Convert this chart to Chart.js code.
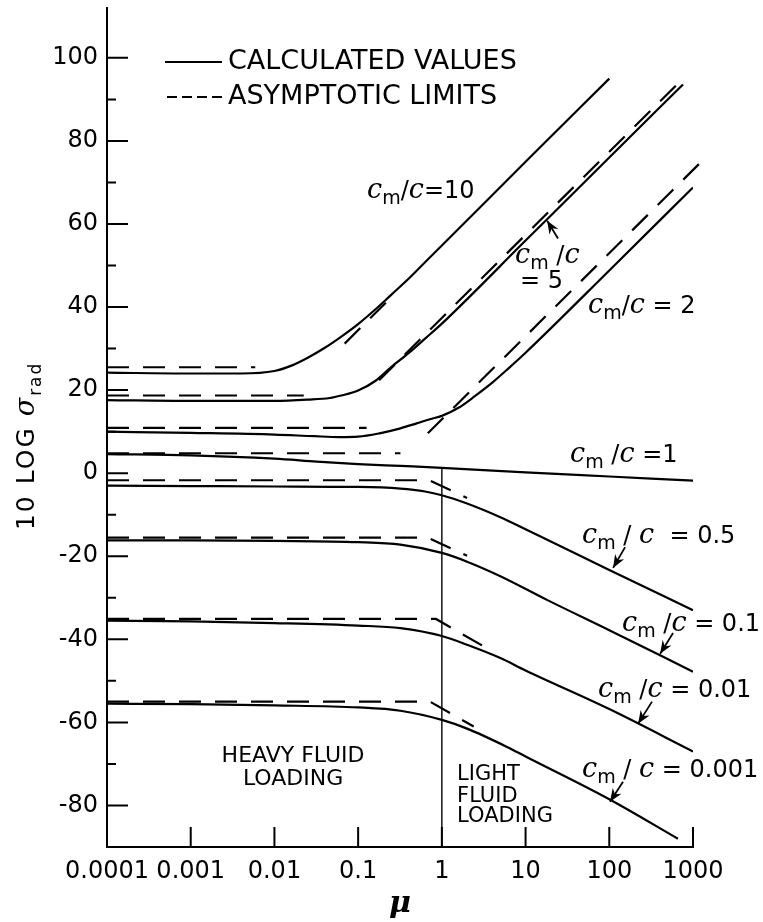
<!DOCTYPE html>
<html>
<head>
<meta charset="utf-8">
<script src="https://cdn.jsdelivr.net/npm/chart.js@4"></script>
<style>
  html, body { margin: 0; padding: 0; background: #fff; }
  canvas { display: block; }
</style>
</head>
<body>
<canvas id="sigmaChart" width="763" height="922"></canvas>
<script>
// axis ticks
const muTicks = [0.0001, 0.001, 0.01, 0.1, 1, 10, 100, 1000];
const muTickLabels = ['0.0001', '0.001', '0.01', '0.1', '1', '10', '100', '1000'];
const yMajor = [-80, -60, -40, -20, 0, 20, 40, 60, 80, 100];
const yMinor = [-70, -50, -30, -10, 10, 30, 50, 70, 90];

// calculated values (solid), one pair per cm/c
const mu10 = [0.0001, 0.001, 0.004, 0.01, 0.016, 0.025, 0.04, 0.063, 0.1, 0.16, 0.25, 0.4, 0.63, 1, 10, 100];
const calc10 = [24.2, 24.0, 24.0, 24.6, 25.9, 27.8, 30.2, 32.9, 35.9, 39.4, 43.0, 46.8, 50.8, 54.8, 75.0, 95.0];
const mu5 = [0.0001, 0.001, 0.01, 0.025, 0.046, 0.063, 0.1, 0.16, 0.25, 0.4, 0.63, 1, 10, 100, 760];
const calc5 = [17.6, 17.4, 17.4, 17.7, 18.1, 18.7, 19.9, 22.2, 25.6, 28.9, 32.4, 36.0, 56.0, 76.0, 93.6];
const mu2 = [0.0001, 0.001, 0.01, 0.03, 0.06, 0.1, 0.18, 0.32, 0.5, 0.72, 1, 1.6, 2.5, 4, 6.3, 10, 100, 1000];
const calc2 = [10.0, 9.7, 9.3, 8.9, 8.7, 8.8, 9.6, 10.8, 12.0, 13.0, 13.8, 15.8, 18.6, 21.8, 25.3, 29.0, 48.8, 68.8];
const mu1 = [0.0001, 0.001, 0.01, 0.032, 0.1, 0.32, 1, 10, 100, 1000];
const calc1 = [4.6, 4.3, 3.5, 2.8, 2.2, 1.75, 1.3, 0.2, -0.8, -1.8];
const mu05 = [0.0001, 0.001, 0.01, 0.1, 0.32, 0.63, 1, 2, 5, 10, 100, 1000];
const calc05 = [-3.0, -3.1, -3.2, -3.3, -3.7, -4.4, -5.3, -7.3, -10.6, -13.5, -23.3, -33.0];
const mu01 = [0.0001, 0.001, 0.01, 0.1, 0.32, 1, 2, 5, 18, 100, 1000];
const calc01 = [-16.2, -16.2, -16.3, -16.6, -17.2, -19.2, -21.3, -24.8, -30.5, -37.8, -47.8];
const mu001 = [0.0001, 0.001, 0.01, 0.1, 0.32, 1, 2, 5, 10, 100, 1000];
const calc001 = [-35.5, -35.7, -36.1, -36.7, -37.3, -39.2, -41.3, -44.5, -47.5, -56.8, -67.0];
const mu0001 = [0.0001, 0.001, 0.01, 0.1, 0.32, 1, 2, 6, 10, 100, 660];
const calc0001 = [-55.5, -55.6, -55.9, -56.4, -57.2, -59.4, -61.5, -65.9, -68.2, -78.5, -88.0];

// asymptotic limits (dashed)
const asyMu10a = [0.0001, 0.0059], asy10a = [25.5, 25.5];
const asyMu10b = [0.069, 0.25], asy10b = [31.2, 42.4];
const asyMu5a = [0.0001, 0.0224], asy5a = [18.7, 18.7];
const asyMu5b = [0.178, 794], asy5b = [22.4, 95.4];
const asyMu2a = [0.0001, 0.126], asy2a = [10.9, 10.9];
const asyMu2b = [0.68, 1445], asy2b = [9.6, 76.2];
const asyMu1 = [0.0001, 0.32], asy1 = [4.8, 4.8];
const asyMu05 = [0.0001, 0.71, 2], asy05 = [-1.7, -1.7, -6.0];
const asyMu01 = [0.0001, 0.68, 2], asy01 = [-15.5, -15.5, -19.9];
const asyMu001 = [0.0001, 0.85, 3.1], asy001 = [-35.1, -35.1, -41.6];
const asyMu0001 = [0.0001, 0.72, 2.4], asy0001 = [-55.0, -55.0, -61.0];

// heavy / light fluid loading boundary
const boundaryMu = [1, 1], boundaryVal = [-90, 1.3];

const ink = '#000';
const SANS = '"DejaVu Sans", sans-serif';
const fC = 'italic 27px "DejaVu Serif", serif';
const fSub = '19px ' + SANS;
const fTxt = '24px ' + SANS;

function line(mu, val, dashed, width) {
  return {
    data: mu.map((m, i) => ({x: m, y: val[i]})),
    borderColor: ink,
    borderWidth: width || 2.2,
    borderDash: dashed ? [22, 14] : [],
    tension: dashed ? 0 : 0.4,
    cubicInterpolationMode: dashed ? 'default' : 'monotone',
    pointRadius: 0,
    fill: false
  };
}

const datasets = [
  line(mu10, calc10), line(mu5, calc5), line(mu2, calc2), line(mu1, calc1),
  line(mu05, calc05), line(mu01, calc01), line(mu001, calc001), line(mu0001, calc0001),
  line(asyMu10a, asy10a, true), line(asyMu10b, asy10b, true),
  line(asyMu5a, asy5a, true), line(asyMu5b, asy5b, true),
  line(asyMu2a, asy2a, true), Object.assign(line(asyMu2b, asy2b, true), {clip: false}),
  line(asyMu1, asy1, true), line(asyMu05, asy05, true), line(asyMu01, asy01, true),
  line(asyMu001, asy001, true), line(asyMu0001, asy0001, true),
  line(boundaryMu, boundaryVal, false, 1.4)
];

// curve labels: anchor (mu, value) of the baseline start
const notes = [
  {mu: 0.128, v: 66.3, slash: '/', rest: '=10'},
  {mu: 55.8, v: 38.5, slash: '/', rest: ' = 2'},
  {mu: 34, v: 2.6, slash: ' /', rest: ' =1'},
  {mu: 47.3, v: -16.8, slash: ' / ', rest: '  = 0.5'},
  {mu: 142, v: -38, slash: ' /', rest: ' = 0.1'},
  {mu: 73.5, v: -53.8, slash: ' /', rest: ' = 0.01'},
  {mu: 47.3, v: -73.1, slash: ' / ', rest: ' = 0.001'}
];
const arrows = [
  [24.4, 56.5, 18.1, 60.8],
  [154.5, -17.8, 111, -22.8],
  [578, -38.5, 405, -43.5],
  [324, -55, 221, -60.3],
  [146, -74.3, 102, -79.1]
];

function drawParts(ctx, x, y, parts) {
  for (const p of parts) {
    ctx.font = p.f;
    ctx.fillText(p.t, x, y + (p.dy || 0));
    x += ctx.measureText(p.t).width;
  }
}
function cmParts(slash, rest) {
  const parts = [{t: 'c', f: fC}, {t: 'm', f: fSub, dy: 6}, {t: slash, f: fTxt}, {t: 'c', f: fC}];
  if (rest) parts.push({t: rest, f: fTxt});
  return parts;
}

const inkPlugin = {
  id: 'ink',
  afterDraw(chart) {
    const {ctx, chartArea: a, scales: {x, y}} = chart;
    const X = m => x.getPixelForValue(m);
    const Y = v => y.getPixelForValue(v);
    ctx.save();
    ctx.strokeStyle = ink;
    ctx.fillStyle = ink;
    ctx.lineWidth = 2;
    ctx.setLineDash([]);

    // inward tick marks
    ctx.beginPath();
    yMajor.forEach(v => { ctx.moveTo(a.left, Y(v)); ctx.lineTo(a.left + 21, Y(v)); });
    yMinor.forEach(v => { ctx.moveTo(a.left, Y(v)); ctx.lineTo(a.left + 9, Y(v)); });
    muTicks.slice(1).forEach(m => { ctx.moveTo(X(m), a.bottom); ctx.lineTo(X(m), a.bottom - 20); });
    ctx.stroke();

    // legend
    ctx.beginPath();
    ctx.moveTo(165, Y(99)); ctx.lineTo(222, Y(99));
    ctx.stroke();
    ctx.setLineDash([10, 5]);
    ctx.beginPath();
    ctx.moveTo(167, Y(90.6)); ctx.lineTo(222, Y(90.6));
    ctx.stroke();
    ctx.setLineDash([]);
    ctx.font = '27px ' + SANS;
    ctx.textBaseline = 'middle';
    ctx.fillText('CALCULATED VALUES', 228, Y(99));
    ctx.fillText('ASYMPTOTIC LIMITS', 228, Y(90.6));

    // curve labels
    ctx.textBaseline = 'alphabetic';
    notes.forEach(n => drawParts(ctx, X(n.mu), Y(n.v), cmParts(n.slash, n.rest)));
    drawParts(ctx, X(7.5), Y(50.7), cmParts(' /', ''));
    drawParts(ctx, X(8.6), Y(44.7), [{t: '= 5', f: fTxt}]);

    // arrows
    arrows.forEach(([m0, v0, m1, v1]) => {
      const x0 = X(m0), y0 = Y(v0), x1 = X(m1), y1 = Y(v1);
      const ang = Math.atan2(y1 - y0, x1 - x0);
      ctx.lineWidth = 1.8;
      ctx.beginPath(); ctx.moveTo(x0, y0); ctx.lineTo(x1, y1); ctx.stroke();
      ctx.beginPath();
      ctx.moveTo(x1, y1);
      ctx.lineTo(x1 - 14 * Math.cos(ang - 0.38), y1 - 14 * Math.sin(ang - 0.38));
      ctx.lineTo(x1 - 9 * Math.cos(ang), y1 - 9 * Math.sin(ang));
      ctx.lineTo(x1 - 14 * Math.cos(ang + 0.38), y1 - 14 * Math.sin(ang + 0.38));
      ctx.closePath(); ctx.fill();
    });

    // fluid loading regions
    ctx.font = '22px ' + SANS;
    ctx.textAlign = 'center';
    ctx.fillText('HEAVY FLUID', X(0.0167), Y(-69.5));
    ctx.fillText('LOADING', X(0.0167), Y(-75));
    ctx.font = '21px ' + SANS;
    ctx.textAlign = 'left';
    ctx.fillText('LIGHT', X(1.52), Y(-73.8));
    ctx.fillText('FLUID', X(1.52), Y(-79.1));
    ctx.fillText('LOADING', X(1.52), Y(-83.9));

    // y axis title
    ctx.translate(a.left - 73, Y(-13.7));
    ctx.rotate(-Math.PI / 2);
    ctx.letterSpacing = '2px';
    drawParts(ctx, 0, 0, [
      {t: '10 LOG ', f: '25px ' + SANS},
      {t: 'σ', f: 'italic 27px "DejaVu Serif", serif'},
      {t: 'rad', f: '17px ' + SANS, dy: 7}
    ]);
    ctx.restore();
  }
};

new Chart(document.getElementById('sigmaChart'), {
  type: 'line',
  data: {datasets},
  options: {
    responsive: false,
    animation: false,
    layout: {padding: {top: 8, right: 70, left: 0, bottom: 0}},
    plugins: {legend: {display: false}, tooltip: {enabled: false}},
    scales: {
      x: {
        type: 'logarithmic',
        min: 0.0001,
        max: 1000,
        grid: {display: false, drawTicks: false},
        border: {display: true, color: ink, width: 2},
        afterBuildTicks: s => { s.ticks = muTicks.map(v => ({value: v})); },
        afterFit: s => { s.height = 75; s.paddingLeft = 0; s.paddingRight = 0; },
        ticks: {
          autoSkip: false, maxRotation: 0, minRotation: 0, padding: 10, color: ink,
          font: {family: 'DejaVu Sans', size: 24},
          callback: v => muTickLabels[muTicks.findIndex(t => Math.abs(Math.log10(t) - Math.log10(v)) < 1e-6)]
        },
        title: {display: true, text: 'μ', color: ink, padding: {top: 0, bottom: 0},
          font: {family: 'DejaVu Serif', size: 30, style: 'italic', weight: 'bold'}}
      },
      y: {
        type: 'linear',
        min: -90,
        max: 112,
        grid: {display: false, drawTicks: false},
        border: {display: true, color: ink, width: 2},
        afterBuildTicks: s => { s.ticks = yMajor.map(v => ({value: v})); },
        afterFit: s => { s.width = 107; s.paddingTop = 0; s.paddingBottom = 0; },
        ticks: {padding: 9, color: ink, font: {family: 'DejaVu Sans', size: 24}}
      }
    }
  },
  plugins: [inkPlugin]
});
</script>
</body>
</html>
